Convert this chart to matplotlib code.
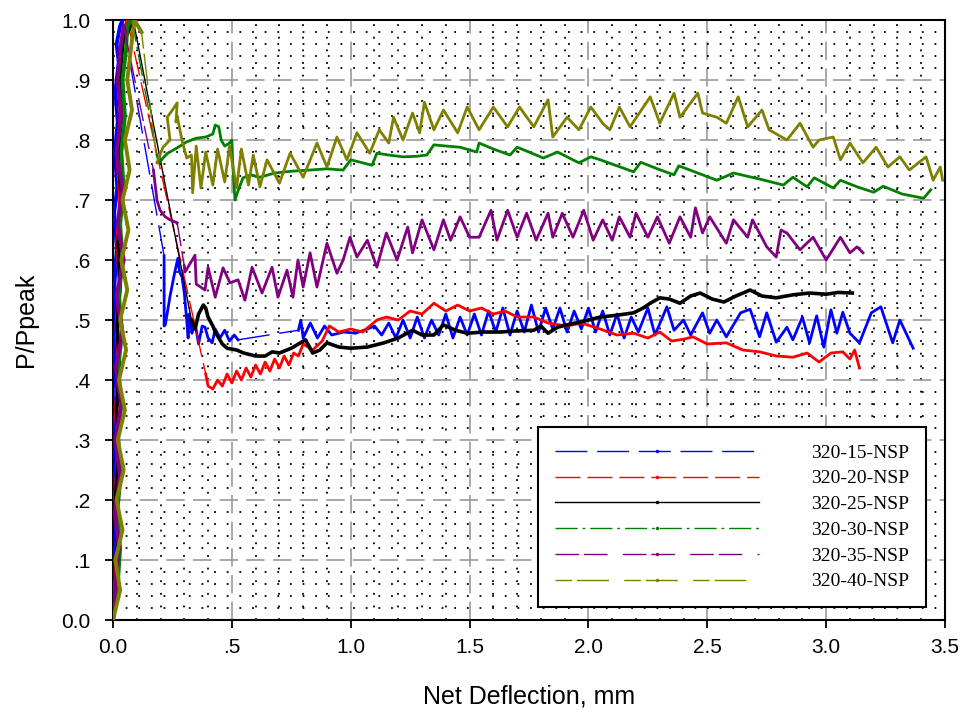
import numpy as np
import matplotlib.pyplot as plt
from matplotlib.lines import Line2D
from matplotlib.ticker import MultipleLocator

# ticks
x_ticks = [0.0, 0.5, 1.0, 1.5, 2.0, 2.5, 3.0, 3.5]
x_ticklabels = ['0.0', '.5', '1.0', '1.5', '2.0', '2.5', '3.0', '3.5']
y_ticks = [0.0, 0.1, 0.2, 0.3, 0.4, 0.5, 0.6, 0.7, 0.8, 0.9, 1.0]
y_ticklabels = ['0.0', '.1', '.2', '.3', '.4', '.5', '.6', '.7', '.8', '.9', '1.0']

labels = ['320-15-NSP', '320-20-NSP', '320-25-NSP', '320-30-NSP', '320-35-NSP', '320-40-NSP']
colors = ['blue', 'red', 'black', 'green', 'purple', 'olive']

# ---- 320-15-NSP (x = net deflection mm, y = P/Ppeak)
s15_rise = np.array([[0.0, 0.0], [0.01, 0.05], [0.004, 0.1], [0.012, 0.15], [0.003, 0.2], [0.01, 0.26],
                     [0.005, 0.32], [0.014, 0.38], [0.004, 0.44], [0.012, 0.5], [0.006, 0.56], [0.016, 0.62],
                     [0.005, 0.68], [0.018, 0.72], [0.008, 0.78], [0.02, 0.83], [0.01, 0.88], [0.024, 0.93],
                     [0.015, 0.96], [0.03, 0.99], [0.04, 1.0]])
s15_post1 = np.array([[0.215, 0.607], [0.215, 0.49], [0.22, 0.492], [0.24, 0.54], [0.26, 0.58], [0.273, 0.603],
                      [0.28, 0.58], [0.29, 0.572], [0.30, 0.545], [0.31, 0.50], [0.316, 0.47], [0.32, 0.51],
                      [0.332, 0.478], [0.345, 0.495], [0.36, 0.46], [0.375, 0.49], [0.387, 0.488], [0.40, 0.47],
                      [0.417, 0.462], [0.43, 0.485], [0.45, 0.47], [0.47, 0.483], [0.49, 0.465], [0.51, 0.475],
                      [0.526, 0.467]])
s15_post2 = np.array([[0.78, 0.483], [0.79, 0.50], [0.80, 0.47], [0.83, 0.495], [0.86, 0.47], [0.89, 0.49],
                      [0.92, 0.475], [0.97, 0.48], [1.02, 0.478], [1.07, 0.485], [1.10, 0.49], [1.13, 0.475],
                      [1.16, 0.495], [1.19, 0.47], [1.22, 0.50], [1.25, 0.47], [1.28, 0.505], [1.31, 0.47],
                      [1.34, 0.50], [1.37, 0.475], [1.40, 0.51], [1.43, 0.47], [1.46, 0.505], [1.49, 0.475],
                      [1.52, 0.51], [1.55, 0.475], [1.58, 0.515], [1.61, 0.48], [1.64, 0.52], [1.67, 0.475],
                      [1.70, 0.515], [1.73, 0.48], [1.76, 0.525], [1.79, 0.48], [1.82, 0.52], [1.85, 0.485],
                      [1.88, 0.52], [1.91, 0.48], [1.94, 0.515], [1.97, 0.485], [2.00, 0.52], [2.03, 0.48],
                      [2.06, 0.515], [2.09, 0.475], [2.12, 0.51], [2.15, 0.47], [2.18, 0.505], [2.21, 0.48],
                      [2.25, 0.52], [2.28, 0.475], [2.33, 0.522], [2.36, 0.483], [2.40, 0.50], [2.43, 0.475],
                      [2.48, 0.512], [2.51, 0.478], [2.54, 0.50], [2.58, 0.472], [2.64, 0.512], [2.68, 0.518],
                      [2.72, 0.472], [2.75, 0.512], [2.79, 0.463], [2.835, 0.488], [2.86, 0.467], [2.90, 0.505],
                      [2.93, 0.462], [2.96, 0.507], [2.99, 0.455], [3.02, 0.517], [3.045, 0.478], [3.07, 0.513],
                      [3.10, 0.478], [3.14, 0.462], [3.19, 0.512], [3.23, 0.522], [3.28, 0.462], [3.31, 0.50],
                      [3.366, 0.453]])

# ---- 320-20-NSP
s20_rise = np.array([[0.0, 0.0], [0.012, 0.07], [0.02, 0.14], [0.01, 0.21], [0.022, 0.28], [0.012, 0.35],
                     [0.025, 0.42], [0.015, 0.49], [0.028, 0.56], [0.018, 0.63], [0.03, 0.70], [0.02, 0.77],
                     [0.032, 0.84], [0.025, 0.91], [0.035, 0.96], [0.06, 1.0]])
s20_post = np.array([[0.39, 0.41], [0.40, 0.39], [0.42, 0.385], [0.44, 0.40], [0.46, 0.39], [0.48, 0.41],
                     [0.50, 0.395], [0.52, 0.415], [0.54, 0.40], [0.56, 0.42], [0.58, 0.405], [0.60, 0.425],
                     [0.62, 0.41], [0.64, 0.43], [0.66, 0.415], [0.68, 0.435], [0.70, 0.42], [0.72, 0.44],
                     [0.74, 0.425], [0.76, 0.445], [0.78, 0.44], [0.80, 0.46], [0.84, 0.45], [0.88, 0.465],
                     [0.91, 0.49], [0.95, 0.48], [1.0, 0.485], [1.05, 0.48], [1.08, 0.49], [1.11, 0.50],
                     [1.15, 0.505], [1.20, 0.50], [1.25, 0.515], [1.30, 0.51], [1.35, 0.528], [1.40, 0.515],
                     [1.45, 0.525], [1.50, 0.515], [1.55, 0.52], [1.60, 0.51], [1.65, 0.515], [1.70, 0.505],
                     [1.77, 0.505], [1.83, 0.495], [1.91, 0.49], [1.97, 0.495], [2.05, 0.485], [2.12, 0.475],
                     [2.19, 0.478], [2.25, 0.47], [2.30, 0.48], [2.35, 0.465], [2.40, 0.468], [2.44, 0.472],
                     [2.50, 0.46], [2.58, 0.462], [2.65, 0.45], [2.72, 0.447], [2.79, 0.44], [2.86, 0.438],
                     [2.92, 0.445], [2.97, 0.43], [3.02, 0.445], [3.07, 0.447], [3.10, 0.435], [3.12, 0.45],
                     [3.14, 0.42]])

# ---- 320-25-NSP
s25_rise = np.array([[0.0, 0.0], [0.015, 0.07], [0.02, 0.14], [0.012, 0.21], [0.025, 0.28], [0.015, 0.35],
                     [0.028, 0.42], [0.018, 0.49], [0.03, 0.56], [0.022, 0.63], [0.035, 0.70], [0.025, 0.77],
                     [0.038, 0.84], [0.03, 0.91], [0.04, 0.96], [0.085, 1.0]])
s25_post = np.array([[0.33, 0.50], [0.345, 0.485], [0.36, 0.51], [0.38, 0.525], [0.39, 0.52], [0.40, 0.505],
                     [0.42, 0.49], [0.43, 0.48], [0.46, 0.46], [0.48, 0.453], [0.52, 0.45], [0.55, 0.445],
                     [0.60, 0.44], [0.64, 0.44], [0.67, 0.447], [0.70, 0.445], [0.75, 0.453], [0.78, 0.46],
                     [0.81, 0.467], [0.84, 0.445], [0.87, 0.45], [0.90, 0.462], [0.95, 0.455], [1.0, 0.453],
                     [1.07, 0.455], [1.14, 0.462], [1.20, 0.47], [1.26, 0.483], [1.30, 0.475], [1.35, 0.475],
                     [1.39, 0.492], [1.44, 0.483], [1.49, 0.478], [1.56, 0.48], [1.63, 0.48], [1.70, 0.482],
                     [1.77, 0.483], [1.80, 0.49], [1.83, 0.478], [1.87, 0.488], [1.91, 0.492], [1.98, 0.498],
                     [2.05, 0.505], [2.12, 0.508], [2.19, 0.512], [2.23, 0.52], [2.26, 0.528], [2.30, 0.537],
                     [2.34, 0.535], [2.385, 0.528], [2.43, 0.54], [2.47, 0.545], [2.52, 0.535], [2.57, 0.53],
                     [2.62, 0.54], [2.68, 0.55], [2.73, 0.54], [2.79, 0.537], [2.86, 0.542], [2.93, 0.545],
                     [3.0, 0.543], [3.05, 0.546], [3.11, 0.545]])

# ---- 320-30-NSP
s30_rise = np.array([[0.0, 0.0], [0.02, 0.06], [0.03, 0.12], [0.018, 0.18], [0.032, 0.24], [0.02, 0.30],
                     [0.035, 0.36], [0.022, 0.42], [0.038, 0.48], [0.025, 0.54], [0.04, 0.60], [0.03, 0.66],
                     [0.045, 0.72], [0.035, 0.78], [0.05, 0.84], [0.04, 0.90], [0.055, 0.95], [0.06, 0.99],
                     [0.08, 1.0]])
s30_post = np.array([[0.185, 0.775], [0.195, 0.762], [0.21, 0.77], [0.23, 0.778], [0.27, 0.787], [0.31, 0.797],
                     [0.35, 0.803], [0.39, 0.805], [0.42, 0.81], [0.43, 0.825], [0.445, 0.822], [0.455, 0.80],
                     [0.47, 0.79], [0.49, 0.795], [0.50, 0.80], [0.505, 0.75], [0.513, 0.70], [0.53, 0.72],
                     [0.547, 0.737], [0.58, 0.742], [0.618, 0.738], [0.68, 0.745], [0.75, 0.748], [0.829, 0.75],
                     [0.90, 0.752], [0.968, 0.75], [1.0, 0.767], [1.05, 0.762], [1.09, 0.758], [1.11, 0.778],
                     [1.16, 0.775], [1.22, 0.772], [1.28, 0.773], [1.32, 0.775], [1.35, 0.792], [1.40, 0.79],
                     [1.46, 0.788], [1.53, 0.78], [1.54, 0.795], [1.60, 0.785], [1.67, 0.775], [1.70, 0.788],
                     [1.75, 0.78], [1.81, 0.77], [1.87, 0.78], [1.92, 0.77], [1.96, 0.762], [2.01, 0.772],
                     [2.05, 0.767], [2.12, 0.757], [2.19, 0.747], [2.22, 0.763], [2.29, 0.752], [2.36, 0.742],
                     [2.38, 0.757], [2.46, 0.745], [2.54, 0.733], [2.61, 0.745], [2.72, 0.735], [2.82, 0.725],
                     [2.86, 0.738], [2.92, 0.722], [2.95, 0.737], [3.03, 0.72], [3.06, 0.733], [3.13, 0.722],
                     [3.20, 0.713], [3.24, 0.723], [3.32, 0.71], [3.41, 0.703], [3.44, 0.717]])

# ---- 320-35-NSP
s35_rise = np.array([[0.0, 0.0], [0.01, 0.06], [0.025, 0.12], [0.008, 0.18], [0.03, 0.24], [0.01, 0.30],
                     [0.035, 0.36], [0.012, 0.42], [0.04, 0.48], [0.015, 0.54], [0.045, 0.60], [0.02, 0.66],
                     [0.04, 0.72], [0.015, 0.78], [0.035, 0.84], [0.02, 0.90], [0.03, 0.95], [0.045, 0.99],
                     [0.05, 0.98]])
s35_mid = np.array([[0.17, 0.75], [0.185, 0.70], [0.198, 0.683], [0.22, 0.672], [0.24, 0.667], [0.27, 0.662]])
s35_post = np.array([[0.30, 0.59], [0.303, 0.58], [0.345, 0.608], [0.35, 0.56], [0.387, 0.55], [0.40, 0.588],
                     [0.43, 0.538], [0.463, 0.587], [0.492, 0.562], [0.526, 0.567], [0.555, 0.533], [0.585, 0.588],
                     [0.627, 0.545], [0.669, 0.588], [0.694, 0.538], [0.732, 0.583], [0.757, 0.538], [0.778, 0.60],
                     [0.80, 0.555], [0.829, 0.612], [0.858, 0.555], [0.90, 0.628], [0.942, 0.578], [0.968, 0.60],
                     [0.997, 0.638], [1.026, 0.605], [1.07, 0.633], [1.11, 0.588], [1.15, 0.645], [1.195, 0.60],
                     [1.24, 0.655], [1.26, 0.612], [1.30, 0.667], [1.35, 0.617], [1.39, 0.667], [1.42, 0.633],
                     [1.46, 0.672], [1.50, 0.638], [1.54, 0.638], [1.59, 0.683], [1.615, 0.633], [1.66, 0.683],
                     [1.70, 0.638], [1.74, 0.678], [1.78, 0.633], [1.83, 0.678], [1.85, 0.638], [1.89, 0.678],
                     [1.935, 0.638], [1.98, 0.683], [2.02, 0.633], [2.06, 0.667], [2.10, 0.633], [2.13, 0.672],
                     [2.175, 0.638], [2.20, 0.678], [2.25, 0.638], [2.29, 0.672], [2.34, 0.628], [2.385, 0.672],
                     [2.43, 0.638], [2.45, 0.687], [2.48, 0.645], [2.51, 0.672], [2.58, 0.628], [2.61, 0.667],
                     [2.67, 0.638], [2.69, 0.667], [2.75, 0.622], [2.79, 0.605], [2.81, 0.65], [2.835, 0.645],
                     [2.89, 0.617], [2.945, 0.638], [3.00, 0.60], [3.06, 0.638], [3.10, 0.612], [3.13, 0.622],
                     [3.155, 0.612]])

# ---- 320-40-NSP
s40_rise = np.array([[0.0, 0.0], [0.03, 0.05], [0.01, 0.1], [0.04, 0.15], [0.015, 0.2], [0.045, 0.25],
                     [0.02, 0.3], [0.05, 0.35], [0.025, 0.4], [0.055, 0.45], [0.03, 0.5], [0.06, 0.55],
                     [0.035, 0.6], [0.065, 0.65], [0.04, 0.7], [0.07, 0.75], [0.05, 0.8], [0.08, 0.85],
                     [0.06, 0.9], [0.075, 0.95], [0.09, 1.0], [0.12, 0.98]])
s40_post = np.array([[0.185, 0.762], [0.21, 0.788], [0.24, 0.80], [0.228, 0.838], [0.25, 0.85], [0.27, 0.862],
                     [0.265, 0.83], [0.27, 0.84], [0.29, 0.80], [0.31, 0.77], [0.33, 0.775], [0.335, 0.712],
                     [0.35, 0.79], [0.37, 0.72], [0.39, 0.78], [0.42, 0.725], [0.44, 0.785], [0.47, 0.73],
                     [0.49, 0.79], [0.52, 0.72], [0.54, 0.785], [0.57, 0.725], [0.59, 0.775], [0.618, 0.722],
                     [0.648, 0.767], [0.70, 0.728], [0.745, 0.778], [0.80, 0.738], [0.858, 0.795], [0.90, 0.755],
                     [0.942, 0.805], [0.984, 0.767], [1.026, 0.812], [1.08, 0.778], [1.12, 0.817], [1.16, 0.795],
                     [1.18, 0.838], [1.22, 0.80], [1.26, 0.845], [1.29, 0.812], [1.31, 0.863], [1.35, 0.817],
                     [1.39, 0.85], [1.45, 0.812], [1.49, 0.855], [1.54, 0.817], [1.60, 0.855], [1.66, 0.822],
                     [1.71, 0.855], [1.77, 0.822], [1.83, 0.867], [1.85, 0.805], [1.91, 0.838], [1.96, 0.817],
                     [2.01, 0.855], [2.06, 0.828], [2.09, 0.817], [2.13, 0.855], [2.175, 0.822], [2.26, 0.872],
                     [2.30, 0.828], [2.36, 0.878], [2.385, 0.838], [2.46, 0.878], [2.48, 0.845], [2.54, 0.838],
                     [2.58, 0.828], [2.63, 0.872], [2.67, 0.822], [2.73, 0.85], [2.76, 0.817], [2.835, 0.80],
                     [2.89, 0.828], [2.945, 0.788], [2.97, 0.80], [3.03, 0.805], [3.06, 0.767], [3.10, 0.795],
                     [3.155, 0.762], [3.21, 0.788], [3.26, 0.755], [3.31, 0.772], [3.35, 0.75], [3.42, 0.772],
                     [3.45, 0.733], [3.48, 0.755], [3.49, 0.733]])

series = [
    [s15_rise, s15_post1, s15_post2],
    [s20_rise, s20_post],
    [s25_rise, s25_post],
    [s30_rise, s30_post],
    [s35_rise, s35_mid, s35_post],
    [s40_rise, s40_post],
]

# line styles (dash patterns as in the legend)
styles = [(0, (23, 7)), (0, (18, 5)), '-', (0, (16, 3.5, 2, 3.5)), (0, (17, 3.5, 17, 11)), (0, (12, 3.5, 23, 11))]
widths = [2.0, 2.0, 2.6, 2.0, 2.0, 2.0]

fig = plt.figure(figsize=(9.65, 7.13), dpi=100)
ax = fig.add_axes([0.1171, 0.1304, 0.8622, 0.8415])

for segs, c, ls, lw in zip(series, colors, styles, widths):
    for k, seg in enumerate(segs):
        w = 2.8 if k == 0 else lw
        ax.plot(seg[:, 0], seg[:, 1], color=c, lw=w, solid_joinstyle='round', zorder=3)
        if k + 1 < len(segs):
            nxt = segs[k + 1]
            ax.plot([seg[-1, 0], nxt[0, 0]], [seg[-1, 1], nxt[0, 1]], color=c, lw=1.0, ls=ls, zorder=3)

ax.set_xlim(0, 3.5)
ax.set_ylim(0, 1.0)
ax.set_xticks(x_ticks)
ax.set_xticklabels(x_ticklabels)
ax.set_yticks(y_ticks)
ax.set_yticklabels(y_ticklabels)
ax.xaxis.set_minor_locator(MultipleLocator(0.1))
ax.yaxis.set_minor_locator(MultipleLocator(0.02))

ax.grid(which='minor', color='black', ls=(0, (1, 6)), lw=1.3)
ax.grid(which='major', color='#999999', ls=(0, (11, 5)), lw=1.2)
ax.set_axisbelow(True)

ax.tick_params(which='major', direction='out', length=6, width=1.3, labelsize=15)
ax.tick_params(axis='y', which='major', pad=10)
ax.tick_params(axis='x', which='major', pad=7)
ax.tick_params(which='minor', length=0)
for lab in ax.get_xticklabels() + ax.get_yticklabels():
    lab.set_fontfamily('Liberation Sans')
for sp in ax.spines.values():
    sp.set_linewidth(1.5)

ax.set_xlabel('Net Deflection, mm', fontsize=18, family='Liberation Sans', labelpad=20)
ax.set_ylabel('P/Ppeak', fontsize=18, family='Liberation Sans', labelpad=17)

handles = [Line2D([], [], color=c, lw=1.0, ls=ls, marker='.', ms=3) for c, ls in zip(colors, styles)]
leg = ax.legend(handles, labels, loc='lower left', bbox_to_anchor=(0.511, 0.0217), borderaxespad=0,
                prop={'family': 'Liberation Serif', 'size': 14}, handlelength=10.5, handletextpad=2.7,
                labelspacing=0.42, borderpad=0.85, fancybox=False, framealpha=1, numpoints=1)
leg.get_frame().set_edgecolor('black')
leg.get_frame().set_linewidth(1.5)
leg.set_zorder(5)

plt.savefig('out.png', dpi=100)
